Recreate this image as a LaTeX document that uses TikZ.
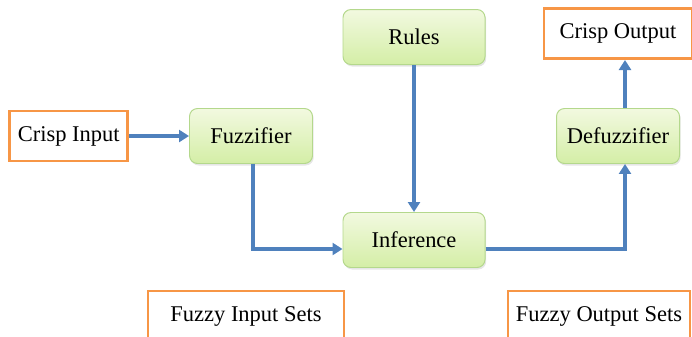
\documentclass[tikz,border=0pt]{standalone}
\usepackage{fontspec}
\setmainfont{Liberation Serif}
\usetikzlibrary{positioning,arrows.meta,shadows}
\definecolor{arrowblue}{HTML}{4F81BD}
\definecolor{boxorange}{HTML}{F79646}
\definecolor{greentop}{HTML}{F2F9E0}
\definecolor{greenbot}{HTML}{D4EEA6}
\definecolor{greenline}{HTML}{B4D88C}

\begin{document}
\begin{tikzpicture}[
  font=\fontsize{16}{19}\selectfont,
  greenbox/.style={draw=greenline, line width=0.7pt, rounded corners=0.2cm,
    top color=greentop, bottom color=greenbot, minimum height=1.375cm,
    drop shadow={opacity=0.2, shadow xshift=0.03cm, shadow yshift=-0.05cm}},
  orangebox/.style={draw=boxorange, line width=1.8pt, fill=white, minimum height=1.25cm},
  flow/.style={draw=arrowblue, line width=2.6pt, -{Triangle[length=0.25cm, width=0.3cm]}},
]
\useasboundingbox (0,0) rectangle (17.3,-8.4);

\node [greenbox, minimum width=3.55cm] (inf) at (10.35,-6.0) {Inference};
\node [greenbox, minimum width=3.55cm, above=3.675cm of inf] (rules) {Rules};
\node [greenbox, minimum width=3.075cm] (fuzz) at (6.275,-3.4) {Fuzzifier};
\node [greenbox, minimum width=3.075cm] (defuzz) at (15.45,-3.4) {Defuzzifier};
\node [orangebox, minimum width=2.95cm, left=1.5cm of fuzz] (crispin) {Crisp Input};
\node [orangebox, minimum width=3.7cm, above=1.2cm of defuzz] (crispout) {Crisp Output};
\node [orangebox, minimum width=4.9cm] (fin) at (6.15,-7.9) {Fuzzy Input Sets};
\node [orangebox, minimum width=4.55cm] (fout) at (14.975,-7.9) {Fuzzy Output Sets};

\draw [flow] (crispin.east) -- (crispin.east -| fuzz.west);
\draw [flow] ([xshift=0.05cm]fuzz.south) |- ([yshift=-0.225cm]inf.west);
\draw [flow] (rules.south) -- (inf.north);
\draw [flow] ([yshift=-0.225cm]inf.east) -| ([xshift=0.175cm]defuzz.south);
\draw [flow] ([xshift=0.175cm]defuzz.north) -- ([xshift=0.175cm]defuzz.north |- crispout.south);
\end{tikzpicture}
\end{document}
